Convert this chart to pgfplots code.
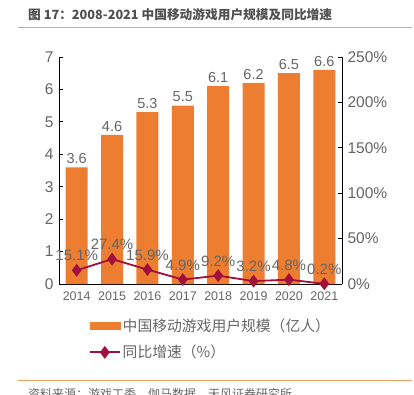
\documentclass[border=0pt]{standalone}
\usepackage{pgfplots}
\pgfplotsset{compat=1.18}
\usepackage{fontspec}
\setmainfont{Liberation Sans}
\newfontfamily\cjk{Noto Sans CJK SC}
\definecolor{barorange}{HTML}{ED7D31}
\definecolor{linered}{HTML}{A0103A}
\definecolor{txtgray}{HTML}{666666}
\definecolor{titlegray}{HTML}{505050}
\definecolor{ruleorange}{HTML}{F0A060}
\begin{document}
\begin{tikzpicture}
\useasboundingbox (0bp,0bp) rectangle (414bp,-395bp);
\node[anchor=west,font=\cjk\fontsize{12.7bp}{15bp}\selectfont\bfseries,text=titlegray,inner sep=0] at (28bp,-15bp) {图 17：2008-2021 中国移动游戏用户规模及同比增速};
\draw[ruleorange,line width=0.8bp] (18bp,-27.5bp) -- (412bp,-27.5bp);
\draw[ruleorange,line width=0.8bp] (18bp,-380bp) -- (412bp,-380bp);
\node[anchor=west,font=\cjk\fontsize{12bp}{14bp}\selectfont,text=txtgray,inner sep=0] at (28bp,-394bp) {资料来源：游戏工委、伽马数据、天风证券研究所};
\begin{axis}[at={(59bp,-284bp)}, anchor=south west, scale only axis,
  width=283bp, height=227bp,
  xmin=-0.5, xmax=7.5, ymin=0, ymax=7,
  ytick={0,1,...,7}, xtick={0,...,7},
  xticklabels={2014,2015,2016,2017,2018,2019,2020,2021},
  axis y line*=left, axis x line*=bottom,
  tick align=inside, major tick length=4bp,
  xtick style={draw=none},
  axis line style={black, line width=0.8bp},
  tick style={black, line width=0.8bp},
  ticklabel style={text=txtgray},
  yticklabel style={font=\fontsize{15.5bp}{17bp}\selectfont, xshift=-2bp},
  xticklabel style={font=\fontsize{12.5bp}{14bp}\selectfont},
  /pgf/number format/assume math mode=true,
  ybar, bar width=22bp,
  nodes near coords,
  nodes near coords style={font=\fontsize{14.5bp}{16bp}\selectfont, text=txtgray, /pgf/number format/fixed, /pgf/number format/precision=1, /pgf/number format/fixed zerofill},
  clip=false]
\addplot[fill=barorange, draw=none] coordinates {(0,3.6) (1,4.6) (2,5.3) (3,5.5) (4,6.1) (5,6.2) (6,6.5) (7,6.6)};
\end{axis}
\begin{axis}[at={(59bp,-284bp)}, anchor=south west, scale only axis,
  width=283bp, height=227bp,
  xmin=-0.5, xmax=7.5, ymin=0, ymax=250,
  ytick={0,50,...,250},
  yticklabel={\pgfmathprintnumber{\tick}\%},
  axis y line*=right, axis x line=none,
  tick align=inside, major tick length=4bp,
  axis line style={black, line width=0.8bp},
  tick style={black, line width=0.8bp},
  ticklabel style={text=txtgray},
  yticklabel style={font=\fontsize{15.5bp}{17bp}\selectfont, xshift=2bp},
  /pgf/number format/assume math mode=true,
  clip=false,
  legend style={at={(0.105,-0.145)}, anchor=north west, draw=none, fill=none,
    font=\cjk\fontsize{14.8bp}{17bp}\selectfont, text=txtgray,
    row sep=8bp, inner sep=0pt},
  legend cell align=left]
\addlegendimage{legend image code/.code={\fill[barorange] (0bp,-3.5bp) rectangle (30bp,3.5bp);}}
\addlegendentry{中国移动游戏用户规模（亿人）}
\addplot[linered, line width=1.8bp, mark=diamond*, mark size=5bp, mark options={fill=linered},
  legend image code/.code={\draw[mark repeat=2,mark phase=2] plot coordinates {(0bp,0bp) (15bp,0bp) (30bp,0bp)};},
  nodes near coords={\pgfmathprintnumber[fixed,precision=1,fixed zerofill]{\pgfplotspointmeta}\%},
  nodes near coords style={font=\fontsize{15bp}{17bp}\selectfont, text=txtgray, yshift=5bp}]
  coordinates {(0,15.1) (1,27.4) (2,15.9) (3,4.9) (4,9.2) (5,3.2) (6,4.8) (7,0.2)};
\addlegendentry{同比增速（\%）}
\end{axis}
\end{tikzpicture}
\end{document}
